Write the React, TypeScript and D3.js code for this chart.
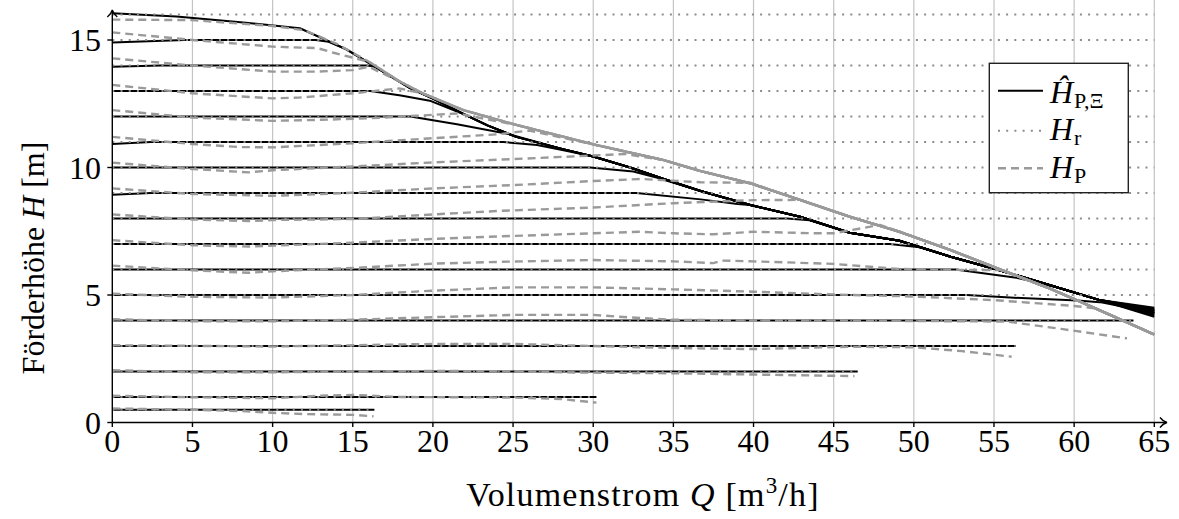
import React, { useRef, useEffect } from 'react';
import * as d3 from 'd3';

const qTicks = [0, 5, 10, 15, 20, 25, 30, 35, 40, 45, 50, 55, 60, 65];
const hTicks = [0, 5, 10, 15];

// set points H_r [m]
const setpoints = [0.5, 1, 2, 3, 4, 5, 6, 7, 8, 9, 10, 11, 12, 13, 14, 15, 16];
// last flow reached for each set point (end of dotted H_r line)
const setpointQEnd = [16.35, 30.2, 46.5, 56.35, 63.7, 65, 65, 65, 65, 65, 65, 65, 65, 65, 65, 65, 65];

// model at full speed, shared by all saturated set points
const modelMax = [
  [0, 16.05], [4, 15.92], [8, 15.7], [11.7, 15.46], [13.5, 14.95], [14.6, 14.63], [16, 14.1],
  [18.6, 13.1], [20, 12.7], [21.9, 12.1], [23.4, 11.65], [25.2, 11.2], [28.1, 10.72], [30, 10.43],
  [32.3, 10.0], [34.4, 9.55], [36.7, 9.08], [39.8, 8.53], [42.9, 8.07], [46, 7.44], [49.1, 7.13],
  [52.3, 6.5], [55.4, 5.96], [58.5, 5.38], [61.6, 4.8]
];

// measured head at full speed
const measuredMax = [
  [0, 15.8], [5, 15.78], [10, 15.55], [12, 15.38], [14, 14.85], [16, 14.15], [18, 13.35],
  [19.4, 12.9], [21.9, 12.25], [25.2, 11.67], [30.2, 10.88], [34.4, 10.29], [36.7, 9.86],
  [39.8, 9.38], [42.9, 8.73], [46, 8.07], [49.1, 7.48], [52.3, 6.76], [55.4, 6.0], [58.5, 5.25],
  [61.6, 4.4], [65, 3.45]
];

// model points before the line runs into the full speed curve
const modelOwn = [
  [[0, 0.5], [16.35, 0.5]],
  [[0, 1], [30.2, 1]],
  [[0, 2], [46.5, 2]],
  [[0, 3], [56.35, 3]],
  [[0, 4], [63.7, 4]],
  [[0, 5], [53.3, 5], [56, 4.9], [60.2, 4.78], [61.6, 4.72]],
  [[0, 6], [52.6, 6], [56.4, 5.68]],
  [[0, 7], [48.5, 7], [50.5, 6.86]],
  [[0, 8], [42.1, 8], [43.5, 7.93]],
  [[0, 8.93], [2.4, 9], [32.7, 9], [36.7, 8.75], [39, 8.57]],
  [[0, 10], [29.8, 10], [32.5, 9.84], [34, 9.6]],
  [[0, 10.92], [2.4, 11], [24.4, 11], [26.5, 10.88], [28.3, 10.66]],
  [[0, 12], [18.6, 12], [21.5, 11.7], [24.8, 11.3]],
  [[0, 13], [16.1, 13], [18, 12.82], [19.8, 12.62]],
  [[0, 13.95], [3, 14], [15.9, 14], [16.4, 13.95]],
  [[0, 14.9], [4.5, 15], [12.7, 15], [13.5, 14.93]],
  []
];
// model head at Q = 65 (null: line never reaches the full speed curve)
const modelEnd = [null, null, null, null, null, 4.3, 4.15, 4.2, 4.35, 4.25, 4.3, 4.5, 4.3, 4.35, 4.4, 4.45, 4.4];

// measured points before joining the full speed curve
const measuredOwn = [
  [[0, 0.55], [5, 0.5], [8, 0.45], [10, 0.38], [12, 0.33], [15, 0.3], [16.3, 0.24]],
  [[0, 1.05], [5, 0.99], [10, 0.95], [13, 1.05], [15, 1.08], [18, 1.0], [25, 0.98], [28, 0.92], [30.2, 0.78]],
  [[0, 2.05], [5, 1.97], [10, 1.97], [15, 2.0], [20, 2.02], [25, 2.01], [29, 1.96], [35, 1.93], [40, 1.88], [46.3, 1.82]],
  [[0, 3.03], [10, 2.98], [20, 3.08], [25, 3.08], [30, 3.0], [35, 2.92], [40, 2.88], [46, 2.97], [50, 2.95], [53, 2.8], [56.1, 2.58]],
  [[0, 4.05], [5, 3.97], [10, 3.97], [15, 4.03], [20, 4.13], [25, 4.22], [30, 4.22], [32.3, 4.12], [35, 4.03], [40, 4.0], [45, 4.0], [50, 3.98], [55.8, 3.96], [59.3, 3.66], [63.3, 3.3]],
  [[0, 5.05], [5, 4.93], [10, 4.9], [15, 5.0], [20, 5.17], [25, 5.3], [30, 5.3], [35, 5.22], [40, 5.13], [45, 5.02], [50, 4.94], [55, 4.8], [60, 4.57], [61.3, 4.48]],
  [[0, 6.15], [5, 5.97], [8.5, 5.87], [10, 5.93], [15, 6.06], [20, 6.23], [24.2, 6.3], [30, 6.37], [35, 6.32], [37.5, 6.25], [38, 6.35], [40, 6.32], [45, 6.22], [49.1, 6.02], [53.3, 5.98], [55.4, 5.98]],
  [[0, 7.15], [5, 6.95], [8.5, 6.9], [15, 7.05], [20, 7.2], [24.2, 7.3], [30, 7.42], [32.9, 7.48], [35, 7.42], [37.5, 7.38], [40, 7.48], [43.8, 7.42], [45, 7.42], [47.9, 7.75]],
  [[0, 8.16], [5, 7.96], [8.5, 7.9], [10, 7.94], [15, 7.98], [20, 8.16], [24.2, 8.3], [30, 8.43], [35, 8.6], [40, 8.72]],
  [[0, 9.18], [5, 8.96], [10, 8.89], [15, 9.01], [20, 9.18], [25, 9.31], [30, 9.47], [33, 9.55], [36.7, 9.42], [39.8, 9.4]],
  [[0, 10.19], [5, 9.94], [8.5, 9.81], [10, 9.89], [15, 10.04], [20, 10.2], [25, 10.33], [30, 10.47], [32, 10.53]],
  [[0, 11.2], [5, 10.92], [8, 10.8], [10, 10.79], [15, 10.95], [20, 11.15], [24, 11.3], [26, 11.45]],
  [[0, 12.25], [5, 11.96], [10, 11.83], [13, 11.87], [16, 11.93], [19, 12.03], [21.5, 12.12]],
  [[0, 13.24], [5, 12.91], [10, 12.71], [11.6, 12.74], [15, 12.91], [17.9, 13.1]],
  [[0, 14.28], [5, 14.0], [10, 13.76], [12.8, 13.76], [15, 13.82], [16, 13.95]],
  [[0, 15.3], [5, 15.0], [10, 14.74], [12.8, 14.68], [13.8, 14.5]],
  []
];
const measuredJoins = [false, false, false, false, false, true, true, true, true, true, true, true, true, true, true, true, true];

const FONT = "'Liberation Serif', 'DejaVu Serif', serif";
const GREY = '#9a9a9a';

function App() {
  const svgRef = useRef(null);

  useEffect(() => {
    document.body.style.margin = '0';
    const svg = d3.select(svgRef.current);
    svg.selectAll('*').remove();

    const x = d3.scaleLinear().domain([0, 65]).range([112.3, 1154.3]);
    const y = d3.scaleLinear().domain([0, 16]).range([422.5, 14.5]);

    const line = d3.line().x(d => x(d[0])).y(d => y(d[1]));

    // vertical grid
    svg.append('g')
      .selectAll('line')
      .data(qTicks.filter(d => d > 0))
      .enter().append('line')
      .attr('x1', d => x(d)).attr('x2', d => x(d))
      .attr('y1', y(0)).attr('y2', 0)
      .attr('stroke', '#c4c4c4')
      .attr('stroke-width', 1.2);

    // model lines (black)
    setpoints.forEach((sp, i) => {
      const own = modelOwn[i];
      let pts = own.slice();
      if (modelEnd[i] !== null) {
        const lastQ = own.length ? own[own.length - 1][0] + 0.5 : -1;
        pts = pts.concat(modelMax.filter(p => p[0] > lastQ));
        pts.push([65, modelEnd[i]]);
      }
      svg.append('path')
        .datum(pts)
        .attr('fill', 'none')
        .attr('stroke', 'black')
        .attr('stroke-width', 2)
        .attr('stroke-linejoin', 'round')
        .attr('d', line);
    });

    // set points (dotted)
    svg.append('g')
      .selectAll('line')
      .data(setpoints)
      .enter().append('line')
      .attr('x1', x(0)).attr('x2', (d, i) => x(setpointQEnd[i]))
      .attr('y1', d => y(d)).attr('y2', d => y(d))
      .attr('stroke', '#8c8c8c')
      .attr('stroke-width', 2)
      .attr('stroke-dasharray', '2 6.2');

    // measured lines (grey dashed)
    setpoints.forEach((sp, i) => {
      const own = measuredOwn[i];
      let pts = own.slice();
      if (measuredJoins[i]) {
        const lastQ = own.length ? own[own.length - 1][0] + 0.5 : -1;
        pts = pts.concat(measuredMax.filter(p => p[0] > lastQ));
      }
      svg.append('path')
        .datum(pts)
        .attr('fill', 'none')
        .attr('stroke', GREY)
        .attr('stroke-width', 2.4)
        .attr('stroke-dasharray', '8 5')
        .attr('d', line);
    });

    // axes
    const axes = svg.append('g').attr('stroke', 'black').attr('stroke-width', 1.4).attr('fill', 'none');
    axes.append('line').attr('x1', x(0)).attr('x2', 1166).attr('y1', y(0)).attr('y2', y(0));
    axes.append('line').attr('x1', x(0)).attr('x2', x(0)).attr('y1', y(0)).attr('y2', 11);
    axes.append('path').attr('d', `M1160,${y(0) - 5} Q1163,${y(0) - 1} 1167,${y(0)} Q1163,${y(0) + 1} 1160,${y(0) + 5}`);
    axes.append('path').attr('d', `M${x(0) - 5},17 Q${x(0) - 1},14 ${x(0)},10 Q${x(0) + 1},14 ${x(0) + 5},17`);

    axes.selectAll('.xt')
      .data(qTicks)
      .enter().append('line')
      .attr('x1', d => x(d)).attr('x2', d => x(d))
      .attr('y1', y(0)).attr('y2', y(0) + 4.5);
    axes.selectAll('.yt')
      .data(hTicks)
      .enter().append('line')
      .attr('x1', x(0) - 5).attr('x2', x(0))
      .attr('y1', d => y(d)).attr('y2', d => y(d));

    const labels = svg.append('g').attr('font-family', FONT).attr('font-size', 32).attr('fill', 'black');
    labels.selectAll('.xl')
      .data(qTicks)
      .enter().append('text')
      .attr('x', d => x(d))
      .attr('y', 452)
      .attr('text-anchor', 'middle')
      .text(d => d);
    labels.selectAll('.yl')
      .data(hTicks)
      .enter().append('text')
      .attr('x', 101)
      .attr('y', d => y(d) + 11)
      .attr('text-anchor', 'end')
      .text(d => d);

    // axis titles
    const xt = labels.append('text')
      .attr('x', 643).attr('y', 506)
      .attr('text-anchor', 'middle')
      .attr('font-size', 34)
      .attr('letter-spacing', 1.2);
    xt.append('tspan').text('Volumenstrom ');
    xt.append('tspan').attr('font-style', 'italic').text('Q');
    xt.append('tspan').text(' [m');
    xt.append('tspan').attr('font-size', 23).attr('dy', -13).text('3');
    xt.append('tspan').attr('dy', 13).text('/h]');

    const yt = labels.append('text')
      .attr('transform', 'translate(44,258) rotate(-90)')
      .attr('text-anchor', 'middle');
    yt.append('tspan').text('Förderhöhe ');
    yt.append('tspan').attr('font-style', 'italic').text('H');
    yt.append('tspan').text(' [m]');

    // legend
    const lg = svg.append('g');
    lg.append('rect')
      .attr('x', 989.3).attr('y', 63.3)
      .attr('width', 139).attr('height', 129.4)
      .attr('fill', 'white')
      .attr('stroke', '#222')
      .attr('stroke-width', 1.4);
    const rows = [
      { y: 90.7, base: 103.3, main: 'Ĥ', sub: 'P,Ξ', stroke: 'black', w: 2, dash: null },
      { y: 130.7, base: 140, main: 'H', sub: 'r', stroke: '#8c8c8c', w: 2, dash: '2 6.2' },
      { y: 168.3, base: 177.7, main: 'H', sub: 'P', stroke: GREY, w: 2.4, dash: '8 5' }
    ];
    rows.forEach(r => {
      lg.append('line')
        .attr('x1', 998).attr('x2', 1043)
        .attr('y1', r.y).attr('y2', r.y)
        .attr('stroke', r.stroke)
        .attr('stroke-width', r.w)
        .attr('stroke-dasharray', r.dash);
      const t = lg.append('text')
        .attr('x', 1050).attr('y', r.base)
        .attr('font-family', FONT).attr('font-size', 32);
      t.append('tspan').attr('font-style', 'italic').text(r.main);
      t.append('tspan').attr('font-size', 22).attr('dy', 5).attr('dx', 1).text(r.sub);
    });
  }, []);

  return <svg ref={svgRef} width={1179} height={519} style={{ display: 'block' }} />;
}

export default App;
